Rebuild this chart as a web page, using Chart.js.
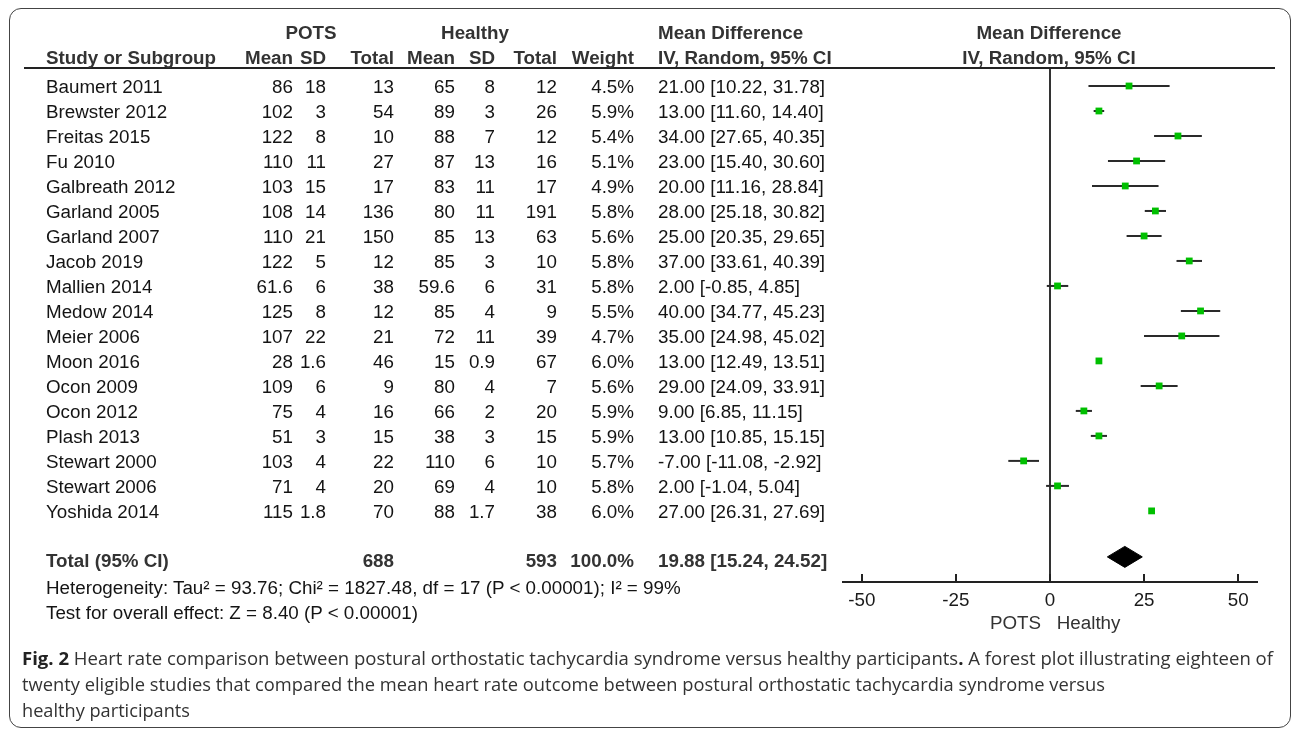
<!DOCTYPE html>
<html><head><meta charset="utf-8">
<script src="https://cdn.jsdelivr.net/npm/chart.js@4.4.1/dist/chart.umd.min.js"></script>
<style>
html,body{margin:0;padding:0;background:#fff;}
body{width:1292px;height:730px;position:relative;overflow:hidden;font-family:'Liberation Sans',Arial,sans-serif;color:#141414;}
#frame{position:absolute;left:9px;top:8px;width:1282px;height:720px;border:1.5px solid #444;border-radius:12px;box-sizing:border-box;}
#c{position:absolute;left:0;top:0;}
.t{position:absolute;white-space:pre;font-size:18.8px;line-height:22px;height:22px;}
.b{font-weight:bold;color:#333;}
.hr{position:absolute;height:2px;background:#222;}
.cap{position:absolute;left:22px;white-space:pre;font-family:'Open Sans',sans-serif;font-size:18px;line-height:24px;color:#333;display:inline-block;transform-origin:0 0;}
.cap b{color:#222;}
</style></head>
<body>
<div id="frame"></div>
<canvas id="c" width="1292" height="730"></canvas>
<div class="hr" style="left:24px;top:67px;width:1251px;"></div>
<div id="txt"></div>
<div class="cap" id="cap1" style="top:646px;"><b>Fig. 2</b> Heart rate comparison between postural orthostatic tachycardia syndrome versus healthy participants<b>.</b> A forest plot illustrating eighteen of</div>
<div class="cap" id="cap2" style="top:672px;">twenty eligible studies that compared the mean heart rate outcome between postural orthostatic tachycardia syndrome versus</div>
<div class="cap" id="cap3" style="top:698px;">healthy participants</div>
<script>
// ---- data ----
const studies = ['Baumert 2011','Brewster 2012','Freitas 2015','Fu 2010','Galbreath 2012','Garland 2005','Garland 2007','Jacob 2019','Mallien 2014','Medow 2014','Meier 2006','Moon 2016','Ocon 2009','Ocon 2012','Plash 2013','Stewart 2000','Stewart 2006','Yoshida 2014'];
const potsMean = [86,102,122,110,103,108,110,122,61.6,125,107,28,109,75,51,103,71,115];
const potsSD = [18,3,8,11,15,14,21,5,6,8,22,1.6,6,4,3,4,4,1.8];
const potsN = [13,54,10,27,17,136,150,12,38,12,21,46,9,16,15,22,20,70];
const healthyMean = [65,89,88,87,83,80,85,85,59.6,85,72,15,80,66,38,110,69,88];
const healthySD = [8,3,7,13,11,11,13,3,6,4,11,0.9,4,2,3,6,4,1.7];
const healthyN = [12,26,12,16,17,191,63,10,31,9,39,67,7,20,15,10,10,38];
const weights = [4.5,5.9,5.4,5.1,4.9,5.8,5.6,5.8,5.8,5.5,4.7,6.0,5.6,5.9,5.9,5.7,5.8,6.0];
const meanDiff = [21,13,34,23,20,28,25,37,2,40,35,13,29,9,13,-7,2,27];
const ciLow = [10.22,11.60,27.65,15.40,11.16,25.18,20.35,33.61,-0.85,34.77,24.98,12.49,24.09,6.85,10.85,-11.08,-1.04,26.31];
const ciHigh = [31.78,14.40,40.35,30.60,28.84,30.82,29.65,40.39,4.85,45.23,45.02,13.51,33.91,11.15,15.15,-2.92,5.04,27.69];
const totalPots = 688, totalHealthy = 593, totalWeight = 100.0;
const pooled = [19.88, 15.24, 24.52];
const xTickValues = [-50,-25,0,25,50];
const heterogeneity = 'Heterogeneity: Tau\u00b2 = 93.76; Chi\u00b2 = 1827.48, df = 17 (P < 0.00001); I\u00b2 = 99%';
const overallTest = 'Test for overall effect: Z = 8.40 (P < 0.00001)';

// ---- layout constants ----
const X_MIN = -55, X_MAX = 55;
const Y_MIN = -0.72, Y_MAX = 19.84;
const TOTAL_ROW = 18.84, DIAMOND_HALF = 0.42;

const ciSets = ciLow.map((lo,i)=>({
  data:[{x:lo,y:i},{x:ciHigh[i],y:i}], showLine:true, borderColor:'#2a2a2a', borderWidth:2,
  pointRadius:0, order:2
}));
const datasets = [
  {data: meanDiff.map((m,i)=>({x:m,y:i})), pointStyle:'rect', pointRadius:4.8, backgroundColor:'#00bf00', borderWidth:0, order:0},
  {data:[{x:pooled[1],y:TOTAL_ROW},{x:pooled[0],y:TOTAL_ROW-DIAMOND_HALF},{x:pooled[2],y:TOTAL_ROW},{x:pooled[0],y:TOTAL_ROW+DIAMOND_HALF},{x:pooled[1],y:TOTAL_ROW}],
   showLine:true, fill:'shape', backgroundColor:'#000', borderColor:'#000', borderWidth:1, pointRadius:0, order:1},
  {data:[{x:0,y:Y_MIN},{x:0,y:Y_MAX}], showLine:true, borderColor:'#333', borderWidth:2, pointRadius:0, order:3},
  ...ciSets
];

const tickMarks = {id:'tickMarks', afterDraw(chart){
  const s = chart.scales.x, c = chart.ctx, yb = chart.chartArea.bottom;
  c.save(); c.strokeStyle='#222'; c.lineWidth=2;
  s.ticks.forEach(t=>{const px=Math.round(s.getPixelForValue(t.value)); c.beginPath(); c.moveTo(px,yb); c.lineTo(px,yb-8); c.stroke();});
  c.restore();
}};

const chart = new Chart(document.getElementById('c'), {
  type:'scatter',
  data:{datasets},
  plugins:[tickMarks],
  options:{
    responsive:false, animation:false, devicePixelRatio:1,
    layout:{padding:{left:843,right:35,top:68,bottom:95}},
    plugins:{legend:{display:false}, tooltip:{enabled:false}},
    scales:{
      x:{type:'linear', min:X_MIN, max:X_MAX,
         afterBuildTicks:s=>{s.ticks = xTickValues.map(v=>({value:v}));},
         grid:{display:false, drawTicks:false},
         border:{display:true, color:'#222', width:2},
         ticks:{color:'#1a1a1a', font:{family:'Liberation Sans', size:18.8}, padding:8, maxRotation:0, autoSkip:false},
         title:{display:true, text:'  POTS   Healthy', color:'#333', font:{family:'Liberation Sans', size:18.8}, padding:{top:-8,bottom:0}}},
      y:{type:'linear', display:false, reverse:true, min:Y_MIN, max:Y_MAX}
    }
  }
});

// ---- table text ----
const txt = document.getElementById('txt');
function put(text, x, y, align, cls){
  const d = document.createElement('div');
  d.className = 't' + (cls ? ' '+cls : '');
  d.textContent = text;
  d.style.top = (y - 10.5) + 'px';
  if (align === 'right'){ d.style.left = (x-300)+'px'; d.style.width='300px'; d.style.textAlign='right'; }
  else if (align === 'center'){ d.style.left = (x-300)+'px'; d.style.width='600px'; d.style.textAlign='center'; }
  else { d.style.left = x+'px'; }
  txt.appendChild(d);
}
const COL = {name:46, m1:293, sd1:326, n1:394, m2:455, sd2:495, n2:557, w:634, md:658};
const fmtCI = (m,l,h)=>m.toFixed(2)+' ['+l.toFixed(2)+', '+h.toFixed(2)+']';
// headers
put('POTS', 311, 32, 'center', 'b');
put('Healthy', 475, 32, 'center', 'b');
put('Mean Difference', COL.md, 32, 'left', 'b');
put('Mean Difference', 1049, 32, 'center', 'b');
put('Study or Subgroup', COL.name, 57, 'left', 'b');
put('Mean', COL.m1, 57, 'right', 'b');
put('SD', COL.sd1, 57, 'right', 'b');
put('Total', COL.n1, 57, 'right', 'b');
put('Mean', COL.m2, 57, 'right', 'b');
put('SD', COL.sd2, 57, 'right', 'b');
put('Total', COL.n2, 57, 'right', 'b');
put('Weight', COL.w, 57, 'right', 'b');
put('IV, Random, 95% CI', COL.md, 57, 'left', 'b');
put('IV, Random, 95% CI', 1049, 57, 'center', 'b');
const ys = chart.scales.y;
studies.forEach((s,i)=>{
  const y = Math.round(ys.getPixelForValue(i));
  put(s, COL.name, y, 'left');
  put(String(potsMean[i]), COL.m1, y, 'right');
  put(String(potsSD[i]), COL.sd1, y, 'right');
  put(String(potsN[i]), COL.n1, y, 'right');
  put(String(healthyMean[i]), COL.m2, y, 'right');
  put(String(healthySD[i]), COL.sd2, y, 'right');
  put(String(healthyN[i]), COL.n2, y, 'right');
  put(weights[i].toFixed(1)+'%', COL.w, y, 'right');
  put(fmtCI(meanDiff[i], ciLow[i], ciHigh[i]), COL.md, y, 'left');
});
const yT = Math.round(ys.getPixelForValue(TOTAL_ROW)) + 3;
put('Total (95% CI)', COL.name, yT, 'left', 'b');
put(String(totalPots), COL.n1, yT, 'right', 'b');
put(String(totalHealthy), COL.n2, yT, 'right', 'b');
put(totalWeight.toFixed(1)+'%', COL.w, yT, 'right', 'b');
put(fmtCI(pooled[0], pooled[1], pooled[2]), COL.md, yT, 'left', 'b');
put(heterogeneity, COL.name, yT+27, 'left');
put(overallTest, COL.name, yT+52, 'left');

// fit caption lines
function fit(){
  [['cap1',1251],['cap2',1083],['cap3',168]].forEach(([id,w])=>{
    const el = document.getElementById(id);
    el.style.transform='none';
    const nat = el.getBoundingClientRect().width;
    el.style.transform = 'scaleX('+(w/nat).toFixed(4)+')';
  });
}
fit();
if (document.fonts && document.fonts.ready) document.fonts.ready.then(fit);
</script>
</body></html>
